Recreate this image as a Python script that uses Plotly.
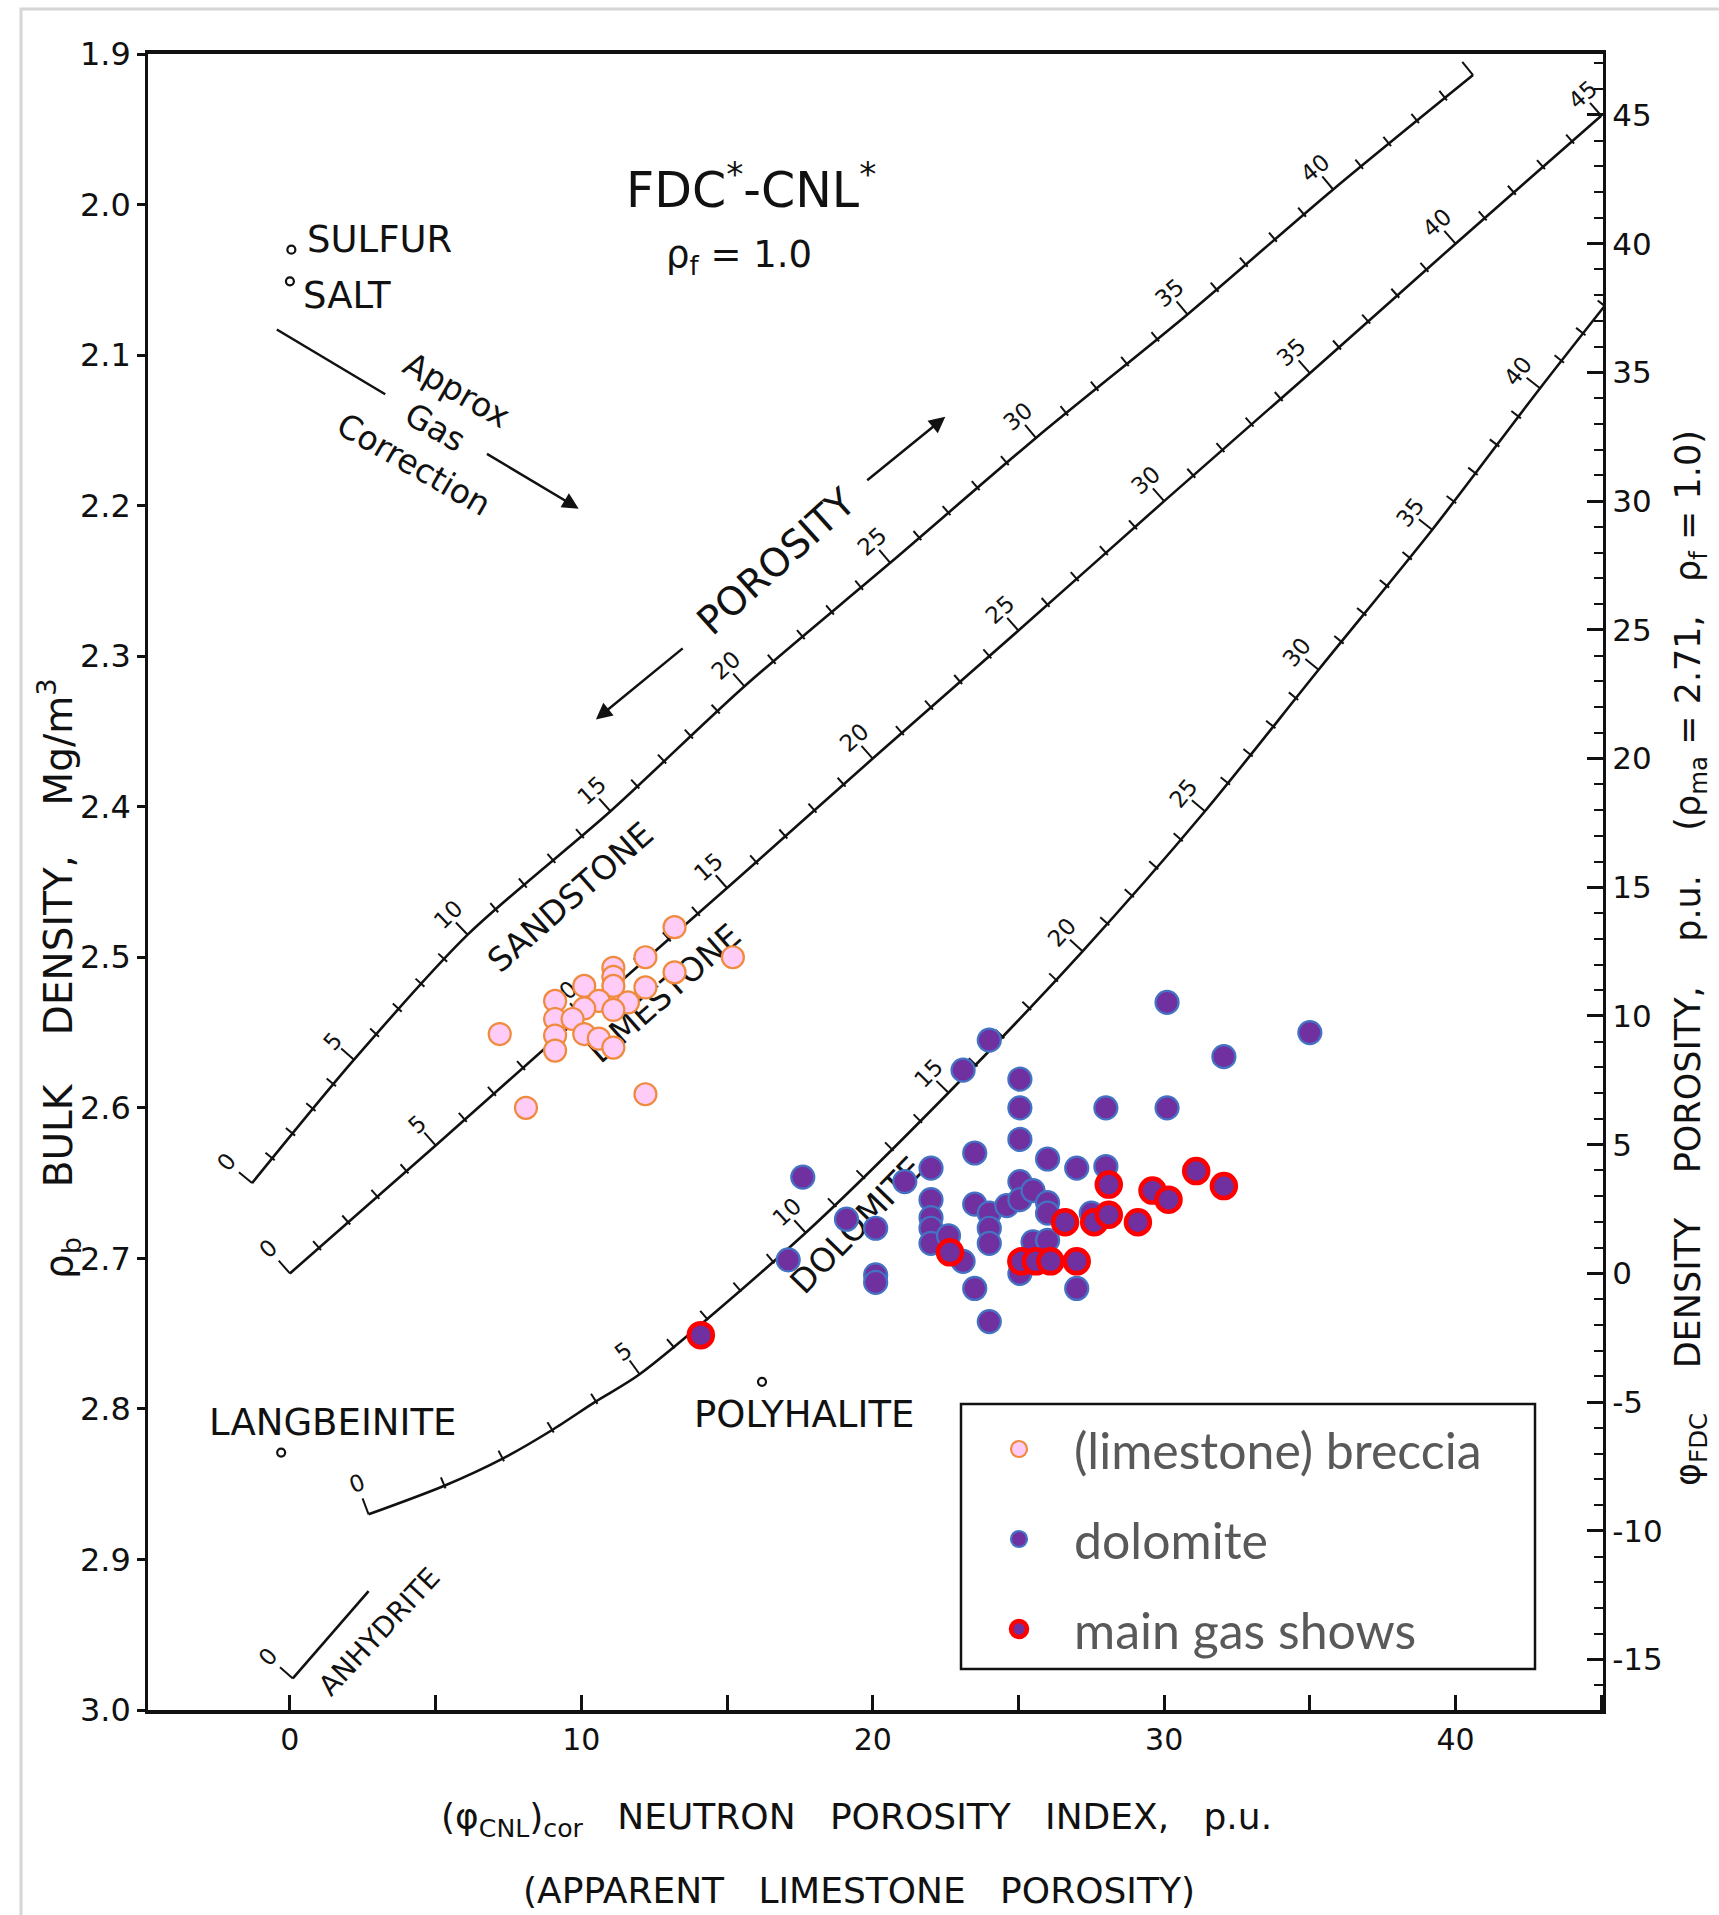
import math
import numpy as np
import plotly.graph_objects as go

# ---------------- data ----------------
DENSITY_TICKS = [1.9, 2.0, 2.1, 2.2, 2.3, 2.4, 2.5, 2.6, 2.7, 2.8, 2.9, 3.0]
NEUTRON_TICKS = [0, 10, 20, 30, 40]
DPHI_TICKS = [-15, -10, -5, 0, 5, 10, 15, 20, 25, 30, 35, 40, 45]

# lithology curves: true porosity, apparent limestone neutron porosity, bulk density
SS_PHI = [0, 5, 10, 15, 20, 25, 30, 35, 40, 45]
SS_NEUTRON = [-1.3, 2.2, 6.1, 11.0, 15.6, 20.6, 25.6, 30.8, 35.8, 40.6]
SS_RHOB = [2.650, 2.568, 2.485, 2.403, 2.320, 2.238, 2.155, 2.073, 1.990, 1.914]
SS_LABELS = [0, 5, 10, 15, 20, 25, 30, 35, 40]

LS_PHI = [0, 5, 10, 15, 20, 25, 30, 35, 40, 45]
LS_NEUTRON = [0, 5, 10, 15, 20, 25, 30, 35, 40, 45]
LS_RHOB = [2.710, 2.625, 2.539, 2.454, 2.368, 2.283, 2.197, 2.112, 2.026, 1.941]
LS_LABELS = [0, 5, 10, 15, 20, 25, 30, 35, 40, 45]

DOL_PHI = [0, 1, 2, 3, 4, 5, 10, 15, 20, 25, 30, 35, 40, 45]
DOL_NEUTRON = [2.7, 5.3, 7.3, 9.0, 10.5, 12.0, 17.7, 22.6, 27.2, 31.4, 35.3, 39.2, 42.9, 46.6]
DOL_RHOB = [2.870, 2.851, 2.833, 2.814, 2.795, 2.777, 2.683, 2.590, 2.496, 2.403, 2.309, 2.216, 2.122, 2.031]
DOL_LABELS = [0, 5, 10, 15, 20, 25, 30, 35, 40]

ANH_PHI = [0, 1]
ANH_NEUTRON = [0.1, 2.7]
ANH_RHOB = [2.979, 2.921]

MINERAL_NAMES = ["SULFUR", "SALT", "LANGBEINITE", "POLYHALITE"]
MINERAL_NEUTRON = [0.05, 0.0, -0.3, 16.2]
MINERAL_RHOB = [2.030, 2.051, 2.829, 2.782]

BRECCIA_NEUTRON = [13.2, 12.2, 15.2, 13.2, 11.1, 11.1, 11.1, 12.2, 10.1, 10.6, 11.6, 11.1,
                   10.1, 9.1, 9.1, 9.7, 10.1, 10.6, 11.1, 9.1, 9.1, 7.2, 8.1, 12.2]
BRECCIA_RHOB = [2.480, 2.500, 2.500, 2.510, 2.507, 2.513, 2.519, 2.520, 2.519, 2.529, 2.530, 2.535,
                2.534, 2.529, 2.541, 2.541, 2.551, 2.554, 2.560, 2.552, 2.562, 2.551, 2.600, 2.591]

DOLOMITE_NEUTRON = [17.6, 17.1, 19.1, 20.1, 20.1, 20.1, 21.1, 22.0, 22.0, 22.0, 22.0, 22.0,
                    22.6, 23.1, 23.5, 23.5, 23.1, 23.5, 24.0, 24.0, 24.0, 24.0, 24.0, 24.6,
                    25.05, 25.05, 25.05, 25.05, 25.05, 25.5, 25.5, 25.05, 26.0, 26.0, 26.0, 26.0,
                    27.0, 27.0, 27.5, 28.0, 28.0, 30.1, 30.1, 32.05, 35.0]
DOLOMITE_RHOB = [2.646, 2.701, 2.674, 2.680, 2.711, 2.716, 2.649, 2.640, 2.661, 2.673, 2.680, 2.690,
                 2.685, 2.575, 2.630, 2.664, 2.702, 2.720, 2.555, 2.670, 2.680, 2.690, 2.742, 2.665,
                 2.581, 2.600, 2.621, 2.649, 2.661, 2.655, 2.689, 2.710, 2.634, 2.663, 2.670, 2.688,
                 2.640, 2.720, 2.670, 2.600, 2.639, 2.530, 2.600, 2.566, 2.550]

GAS_NEUTRON = [14.1, 22.65, 25.1, 25.6, 26.1, 27.0, 26.6, 27.6, 28.1, 29.1, 28.1, 29.6, 30.15, 31.1, 32.05]
GAS_RHOB = [2.751, 2.696, 2.702, 2.702, 2.702, 2.702, 2.676, 2.676, 2.671, 2.676, 2.651, 2.655,
            2.661, 2.642, 2.652]

RHO_MA_LS = 2.71
RHO_F = 1.0

# ---------------- layout geometry ----------------
W, H = 1719, 1915
ML, MR, MT, MB = 148, 116, 54, 205
X_RANGE = [-4.87, 45.06]
Y_RANGE = [3.0, 1.9]
PW = W - ML - MR
PH = H - MT - MB
PX_X = PW / (X_RANGE[1] - X_RANGE[0])
PX_Y = PH / (Y_RANGE[0] - Y_RANGE[1])

TXT = "DejaVu Sans, Liberation Sans, sans-serif"
INK = "#111111"
NB = "\u00a0"


def px_to_data(dx, dy):
    return dx / PX_X, dy / PX_Y  # screen-down is +density


def paper_x(px):
    return (px - ML) / PW


def paper_y(py):
    return (H - MB - py) / PH


def label_shape(n, r, angle_deg, text, size, layer="below"):
    a = math.radians(angle_deg)
    dn, dr = px_to_data(math.cos(a) * 8, math.sin(a) * 8)
    return dict(type="line", xref="x", yref="y", x0=n - dn, y0=r - dr, x1=n + dn, y1=r + dr,
                line=dict(color="rgba(0,0,0,0)", width=1), layer=layer,
                label=dict(text=text, textposition="middle",
                           xanchor="center", yanchor="middle", padding=0,
                           font=dict(family=TXT, size=size, color=INK)))


def curve_parts(phi, nn, rr, labels, major_len=17, minor_len=9, minor_back=3, lab_dist=30, zero_dist=35,
                ticks=None):
    phi = np.asarray(phi, float)
    nn = np.asarray(nn, float)
    rr = np.asarray(rr, float)
    tx, ty, shapes = [], [], []
    tick_list = ticks if ticks is not None else range(int(phi[0]), int(phi[-1]) + 1)
    for p in tick_list:
        n0 = float(np.interp(p, phi, nn))
        r0 = float(np.interp(p, phi, rr))
        pa, pb = max(p - 0.5, phi[0]), min(p + 0.5, phi[-1])
        dsx = (np.interp(pb, phi, nn) - np.interp(pa, phi, nn)) * PX_X
        dsy = (np.interp(pb, phi, rr) - np.interp(pa, phi, rr)) * PX_Y
        L = math.hypot(dsx, dsy)
        ux, uy = dsx / L, dsy / L
        qx, qy = uy, -ux  # up-left normal (screen)
        major = (p % 5 == 0)
        a, b = (0, major_len) if major else (minor_back, minor_len)
        d0 = px_to_data(-qx * a, -qy * a)
        d1 = px_to_data(qx * b, qy * b)
        tx += [n0 + d0[0], n0 + d1[0], None]
        ty += [r0 + d0[1], r0 + d1[1], None]
        if p in labels:
            dist = zero_dist if p == 0 else lab_dist
            dl = px_to_data(qx * dist, qy * dist)
            ang = math.degrees(math.atan2(uy, ux))
            shapes.append(label_shape(n0 + dl[0], r0 + dl[1], ang, str(p), 23))
    return tx, ty, shapes


fig = go.Figure()
shapes = []
annotations = []

tick_x, tick_y = [], []
for phi, nn, rr, labs in [(SS_PHI, SS_NEUTRON, SS_RHOB, SS_LABELS),
                          (LS_PHI, LS_NEUTRON, LS_RHOB, LS_LABELS),
                          (DOL_PHI, DOL_NEUTRON, DOL_RHOB, DOL_LABELS)]:
    fig.add_trace(go.Scatter(x=nn, y=rr, mode="lines",
                             line=dict(color=INK, width=2.6, shape="spline", smoothing=0.8),
                             showlegend=False, hoverinfo="skip"))
    tx, ty, sh = curve_parts(phi, nn, rr, labs)
    tick_x += tx
    tick_y += ty
    shapes += sh

# anhydrite segment
fig.add_trace(go.Scatter(x=ANH_NEUTRON, y=ANH_RHOB, mode="lines", line=dict(color=INK, width=2.6),
                         showlegend=False, hoverinfo="skip"))
tx, ty, sh = curve_parts(ANH_PHI, ANH_NEUTRON, ANH_RHOB, [0], ticks=[0])
tick_x += tx
tick_y += ty
shapes += sh

fig.add_trace(go.Scatter(x=tick_x, y=tick_y, mode="lines", line=dict(color=INK, width=2),
                         showlegend=False, hoverinfo="skip"))

# lithology names along curves (below the data points)
shapes.append(label_shape(9.58, 2.459, -41.3, "SANDSTONE", 33))
shapes.append(label_shape(12.80, 2.523, -41.4, "LIMESTONE", 33))
shapes.append(label_shape(19.40, 2.677, -46.0, "DOLOMITE", 33))
shapes.append(label_shape(3.02, 2.947, -47.0, "ANHYDRITE", 28))

# single minerals
fig.add_trace(go.Scatter(x=MINERAL_NEUTRON, y=MINERAL_RHOB, mode="markers",
                         marker=dict(symbol="circle-open", size=8, color=INK, line=dict(width=2.2)),
                         showlegend=False, hoverinfo="skip"))
mineral_offsets = {"SULFUR": (14, 10, "left"), "SALT": (11, -14, "left"),
                   "LANGBEINITE": (51, 30, "center"), "POLYHALITE": (42, -33, "center")}
for name, n, r in zip(MINERAL_NAMES, MINERAL_NEUTRON, MINERAL_RHOB):
    dx, dy, anc = mineral_offsets[name]
    annotations.append(dict(x=n, y=r, xref="x", yref="y", text=name, showarrow=False,
                            xanchor=anc, yanchor="middle", xshift=dx, yshift=dy,
                            font=dict(family=TXT, size=37, color=INK)))

# data
fig.add_trace(go.Scatter(x=BRECCIA_NEUTRON, y=BRECCIA_RHOB, mode="markers", name="(limestone) breccia",
                         legendgroup="a",
                         marker=dict(size=22, color="#FFCCF7", line=dict(color="#F08A3E", width=2.2)),
                         hoverinfo="skip"))
fig.add_trace(go.Scatter(x=DOLOMITE_NEUTRON, y=DOLOMITE_RHOB, mode="markers", name="dolomite",
                         legendgroup="b",
                         marker=dict(size=23, color="#7030A0", line=dict(color="#4472C4", width=2.2)),
                         hoverinfo="skip"))
fig.add_trace(go.Scatter(x=GAS_NEUTRON, y=GAS_RHOB, mode="markers", name="main gas shows",
                         legendgroup="c",
                         marker=dict(size=24, color="#7030A0", line=dict(color="#FF0000", width=4.5)),
                         hoverinfo="skip"))

# invisible trace to carry the density-porosity axis
dphi_range = [(RHO_MA_LS - Y_RANGE[0]) / (RHO_MA_LS - RHO_F) * 100,
              (RHO_MA_LS - Y_RANGE[1]) / (RHO_MA_LS - RHO_F) * 100]
fig.add_trace(go.Scatter(x=[20], y=[10], yaxis="y2", mode="markers", marker=dict(opacity=0),
                         showlegend=False, hoverinfo="skip"))

# arrows and helper lines
shapes.append(dict(type="line", xref="x", yref="y", x0=-0.45, y0=2.083, x1=3.27, y1=2.126,
                   line=dict(color=INK, width=2.5)))
for hx, hy, tx0, ty0 in [(9.91, 2.202, 6.71, 2.165),      # gas correction arrow
                         (10.50, 2.342, 13.53, 2.294),    # porosity arrow down-left
                         (22.49, 2.141, 19.76, 2.184)]:   # porosity arrow up-right
    annotations.append(dict(x=hx, y=hy, ax=tx0, ay=ty0, xref="x", yref="y", axref="x", ayref="y",
                            text="", showarrow=True, arrowhead=2, arrowsize=1.3, arrowwidth=2.5,
                            arrowcolor=INK, standoff=0, startstandoff=0))

annotations += [
    dict(x=5.0, y=2.148, xref="x", yref="y", text="Approx<br>Gas<br>Correction", showarrow=False,
         textangle=30, font=dict(family=TXT, size=33, color=INK), align="center"),
    dict(x=16.68, y=2.237, xref="x", yref="y", text="POROSITY", showarrow=False, textangle=-42,
         font=dict(family=TXT, size=39, color=INK)),
    dict(x=15.83, y=1.988, xref="x", yref="y", text="FDC<sup>*</sup>-CNL<sup>*</sup>", showarrow=False,
         font=dict(family=TXT, size=49, color=INK)),
    dict(x=15.41, y=2.035, xref="x", yref="y", text="ρ<sub>f</sub> = 1.0", showarrow=False,
         font=dict(family=TXT, size=37, color=INK)),
    # axis titles
    dict(x=paper_x(59), y=paper_y(979), xref="paper", yref="paper", showarrow=False,
         xanchor="center", yanchor="middle", textangle=-90,
         text=f"ρ<sub>b</sub>{NB*4}BULK{NB*4}DENSITY,{NB*4}Mg/m<sup>3</sup>",
         font=dict(family=TXT, size=39, color=INK)),
    dict(x=paper_x(1690), y=paper_y(958), xref="paper", yref="paper", showarrow=False,
         xanchor="center", yanchor="middle", textangle=-90,
         text=f"φ<sub>FDC</sub>{NB*4}DENSITY{NB*4}POROSITY,{NB*4}p.u.{NB*4}"
              f"(ρ<sub>ma</sub> = 2.71,{NB*3}ρ<sub>f</sub> = 1.0)",
         font=dict(family=TXT, size=35, color=INK)),
    dict(x=paper_x(856), y=paper_y(1819), xref="paper", yref="paper", showarrow=False,
         xanchor="center", yanchor="middle",
         text=f"(φ<sub>CNL</sub>)<sub>cor</sub>{NB*3}NEUTRON{NB*3}POROSITY{NB*3}INDEX,{NB*3}p.u.",
         font=dict(family=TXT, size=36, color=INK)),
    dict(x=paper_x(859), y=paper_y(1890), xref="paper", yref="paper", showarrow=False,
         xanchor="center", yanchor="middle",
         text=f"(APPARENT{NB*3}LIMESTONE{NB*3}POROSITY)",
         font=dict(family=TXT, size=36, color=INK)),
]

# light frame of the picture
shapes.append(dict(type="rect", xref="paper", yref="paper", x0=paper_x(21), x1=1.3,
                   y0=-0.3, y1=paper_y(9), line=dict(color="#d6d6d6", width=3),
                   fillcolor="rgba(0,0,0,0)", layer="below"))
# legend frame
shapes.append(dict(type="rect", xref="paper", yref="paper", x0=paper_x(961), x1=paper_x(1535),
                   y0=paper_y(1669), y1=paper_y(1404), line=dict(color=INK, width=2.5),
                   fillcolor="white", layer="above"))

fig.update_layout(
    width=W, height=H,
    margin=dict(l=ML, r=MR, t=MT, b=MB),
    paper_bgcolor="white", plot_bgcolor="white",
    hovermode=False,
    shapes=shapes, annotations=annotations,
    xaxis=dict(range=X_RANGE, tickvals=NEUTRON_TICKS, ticks="inside", ticklen=15, tickwidth=2.5,
               tickcolor=INK, minor=dict(dtick=5, tick0=0, ticks="inside", ticklen=15, tickwidth=2.5,
                                         tickcolor=INK),
               showline=True, linecolor=INK, linewidth=4, mirror=True, showgrid=False, zeroline=False,
               tickfont=dict(family=TXT, size=30, color=INK), ticklabelstandoff=0),
    yaxis=dict(range=Y_RANGE, tickvals=DENSITY_TICKS, ticktext=[f"{v:.1f}" for v in DENSITY_TICKS],
               ticks="outside", ticklen=8, tickwidth=2.5, tickcolor=INK,
               showline=True, linecolor=INK, linewidth=2.5, showgrid=False, zeroline=False,
               tickfont=dict(family=TXT, size=32, color=INK)),
    yaxis2=dict(range=dphi_range, overlaying="y", side="right", anchor="x",
                tickvals=DPHI_TICKS, ticktext=[str(v) for v in DPHI_TICKS],
                ticks="inside", ticklen=16, tickwidth=2.5, tickcolor=INK,
                minor=dict(dtick=1, tick0=0, ticks="inside", ticklen=9, tickwidth=2, tickcolor=INK),
                showline=True, linecolor=INK, linewidth=3, showgrid=False, zeroline=False,
                tickfont=dict(family=TXT, size=31, color=INK)),
    legend=dict(x=paper_x(964), y=paper_y(1410), xanchor="left", yanchor="top",
                bgcolor="rgba(0,0,0,0)", borderwidth=0,
                font=dict(family="Lato, Carlito, sans-serif", size=50, color="#595959"),
                tracegroupgap=22, itemwidth=100),
)

fig.write_html("out.html", config={"displayModeBar": False},
               post_script="document.body.style.margin='0px';")
